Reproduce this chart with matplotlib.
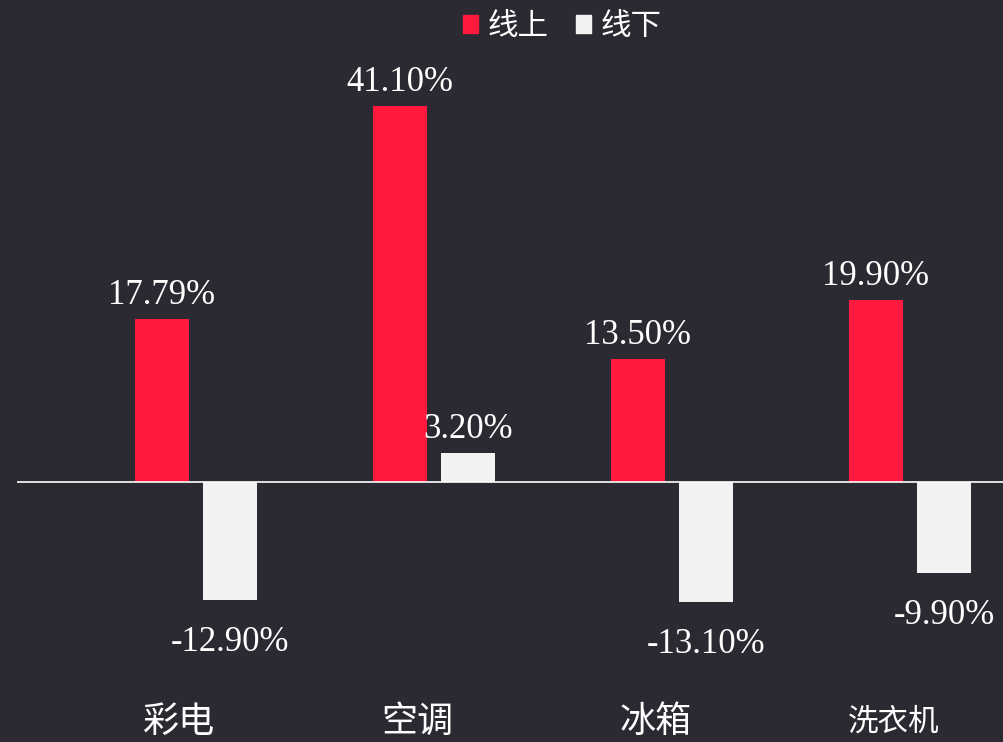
import numpy as np
import matplotlib
matplotlib.use("Agg")
import matplotlib.pyplot as plt
from matplotlib.patches import Patch

# data
categories = ["彩电", "空调", "冰箱", "洗衣机"]
online = [17.79, 41.10, 13.50, 19.90]
offline = [-12.90, 3.20, -13.10, -9.90]
series_names = ["线上", "线下"]

BG = "#2b2a32"
RED = "#ff1a3d"
WHITE = "#f1f2f1"

plt.rcParams["font.family"] = ["Liberation Serif", "Noto Sans CJK SC", "DejaVu Sans"]

fig = plt.figure(figsize=(10.04, 7.42), dpi=100, facecolor=BG)
ax = fig.add_axes([17 / 1004, 0, 987 / 1004, 1])
ax.set_facecolor(BG)

x = np.arange(len(categories))
w = 0.227
off = 0.143
ax.bar(x - off, online, width=w, color=RED, zorder=2)
ax.bar(x + off, offline, width=w, color=WHITE, zorder=2)
ax.axhline(0, color="white", lw=1.2, zorder=3)

ax.set_xlim(-0.752, 3.395)
ax.set_ylim(-28.42, 52.69)
ax.axis("off")

# value labels
for xi, v in zip(x - off, online):
    ax.annotate(f"{v:.2f}%", (xi, v), xytext=(0, 5), textcoords="offset points",
                ha="center", va="bottom", color="white", fontsize=25)
for xi, v in zip(x + off, offline):
    if v >= 0:
        ax.annotate(f"{v:.2f}%", (xi, v), xytext=(0, 5), textcoords="offset points",
                    ha="center", va="bottom", color="white", fontsize=25)
    else:
        ax.annotate(f"{v:.2f}%", (xi, v), xytext=(0, -19), textcoords="offset points",
                    ha="center", va="top", color="white", fontsize=25)

# category labels along the bottom (kept just inside the figure)
for xi, cat in zip(x, categories):
    fs = 22 if len(cat) > 2 else 26
    ax.text(xi - 0.07, -26.4, cat, ha="center", va="center", color="white", fontsize=fs)

handles = [Patch(color=RED), Patch(color=WHITE)]
fig.legend(handles, series_names, loc="upper center", bbox_to_anchor=(0.56, 1.02),
           ncol=2, frameon=False, fontsize=22, labelcolor="white",
           handlelength=0.5, handleheight=0.5, handletextpad=0.3, columnspacing=0.9)

fig.savefig("out.png", dpi=100, facecolor=BG)
